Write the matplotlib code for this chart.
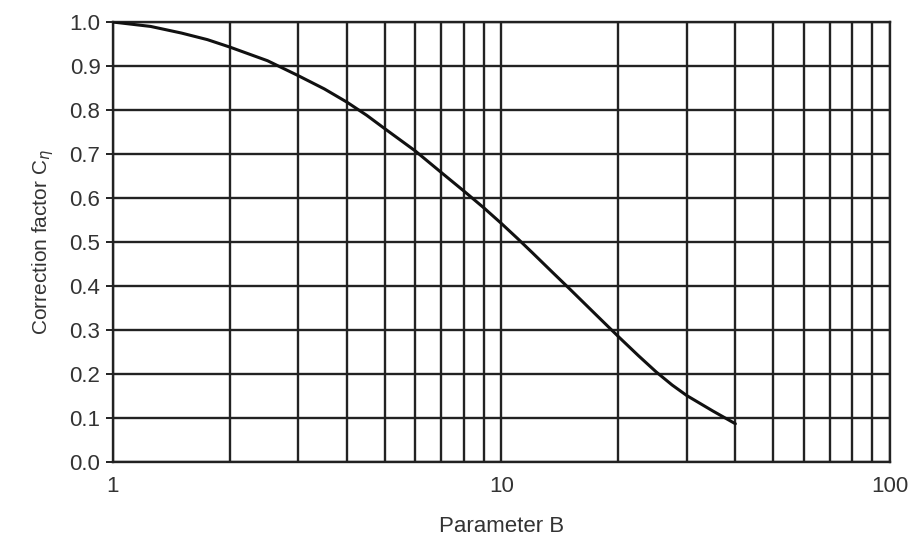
import matplotlib.pyplot as plt
from matplotlib.ticker import FixedLocator, NullFormatter

plt.rcParams['font.family'] = ['Liberation Sans', 'DejaVu Sans']

# correction factor curve read at grid positions
param_b = [1, 1.25, 1.5, 1.75, 2, 2.5, 3, 3.5, 4, 4.5, 5, 6, 7, 8, 9, 10,
           11, 12, 13.5, 15, 17.5, 20, 22.5, 25, 27.5, 30, 35, 40]
corr_factor = [1.0, 0.99, 0.975, 0.96, 0.943, 0.912, 0.878, 0.848, 0.818, 0.788,
               0.758, 0.707, 0.658, 0.616, 0.578, 0.542, 0.508, 0.476, 0.432,
               0.393, 0.335, 0.285, 0.242, 0.205, 0.175, 0.151, 0.116, 0.087]

x_major = [1, 10, 100]
x_minor = [2, 3, 4, 5, 6, 7, 8, 9, 20, 30, 40, 50, 60, 70, 80, 90]
y_ticks = [0.0, 0.1, 0.2, 0.3, 0.4, 0.5, 0.6, 0.7, 0.8, 0.9, 1.0]

fig = plt.figure(figsize=(9.23, 5.4), dpi=100)
ax = fig.add_axes([0.1224, 0.1444, 0.8418, 0.8148])

ax.plot(param_b, corr_factor, color='#111111', lw=2.2, solid_capstyle='round',
        solid_joinstyle='round', zorder=3)

ax.set_xscale('log')
ax.set_xlim(1, 100)
ax.set_ylim(0, 1.0)

ax.xaxis.set_major_locator(FixedLocator(x_major))
ax.xaxis.set_minor_locator(FixedLocator(x_minor))
ax.xaxis.set_minor_formatter(NullFormatter())
ax.set_xticklabels(['1', '10', '100'])
ax.set_yticks(y_ticks)
ax.set_yticklabels([f'{v:.1f}' for v in y_ticks])

grid_kw = dict(color='#222222', lw=1.7)
ax.grid(which='major', axis='both', **grid_kw)
ax.grid(which='minor', axis='x', **grid_kw)

for side in ['top', 'right', 'left', 'bottom']:
    ax.spines[side].set_color('#222222')
    ax.spines[side].set_linewidth(1.7)

ax.tick_params(axis='x', which='both', length=0, pad=10, labelsize=16, labelcolor='#333333')
ax.tick_params(axis='y', length=5, width=1.4, color='#222222', pad=4,
               labelsize=16, labelcolor='#333333')

ax.set_xlabel('Parameter B', fontsize=16, color='#333333', labelpad=14)
ax.set_ylabel(r'Correction factor C$_\eta$', fontsize=15, color='#333333', labelpad=10)

fig.savefig('out.png', dpi=100)
